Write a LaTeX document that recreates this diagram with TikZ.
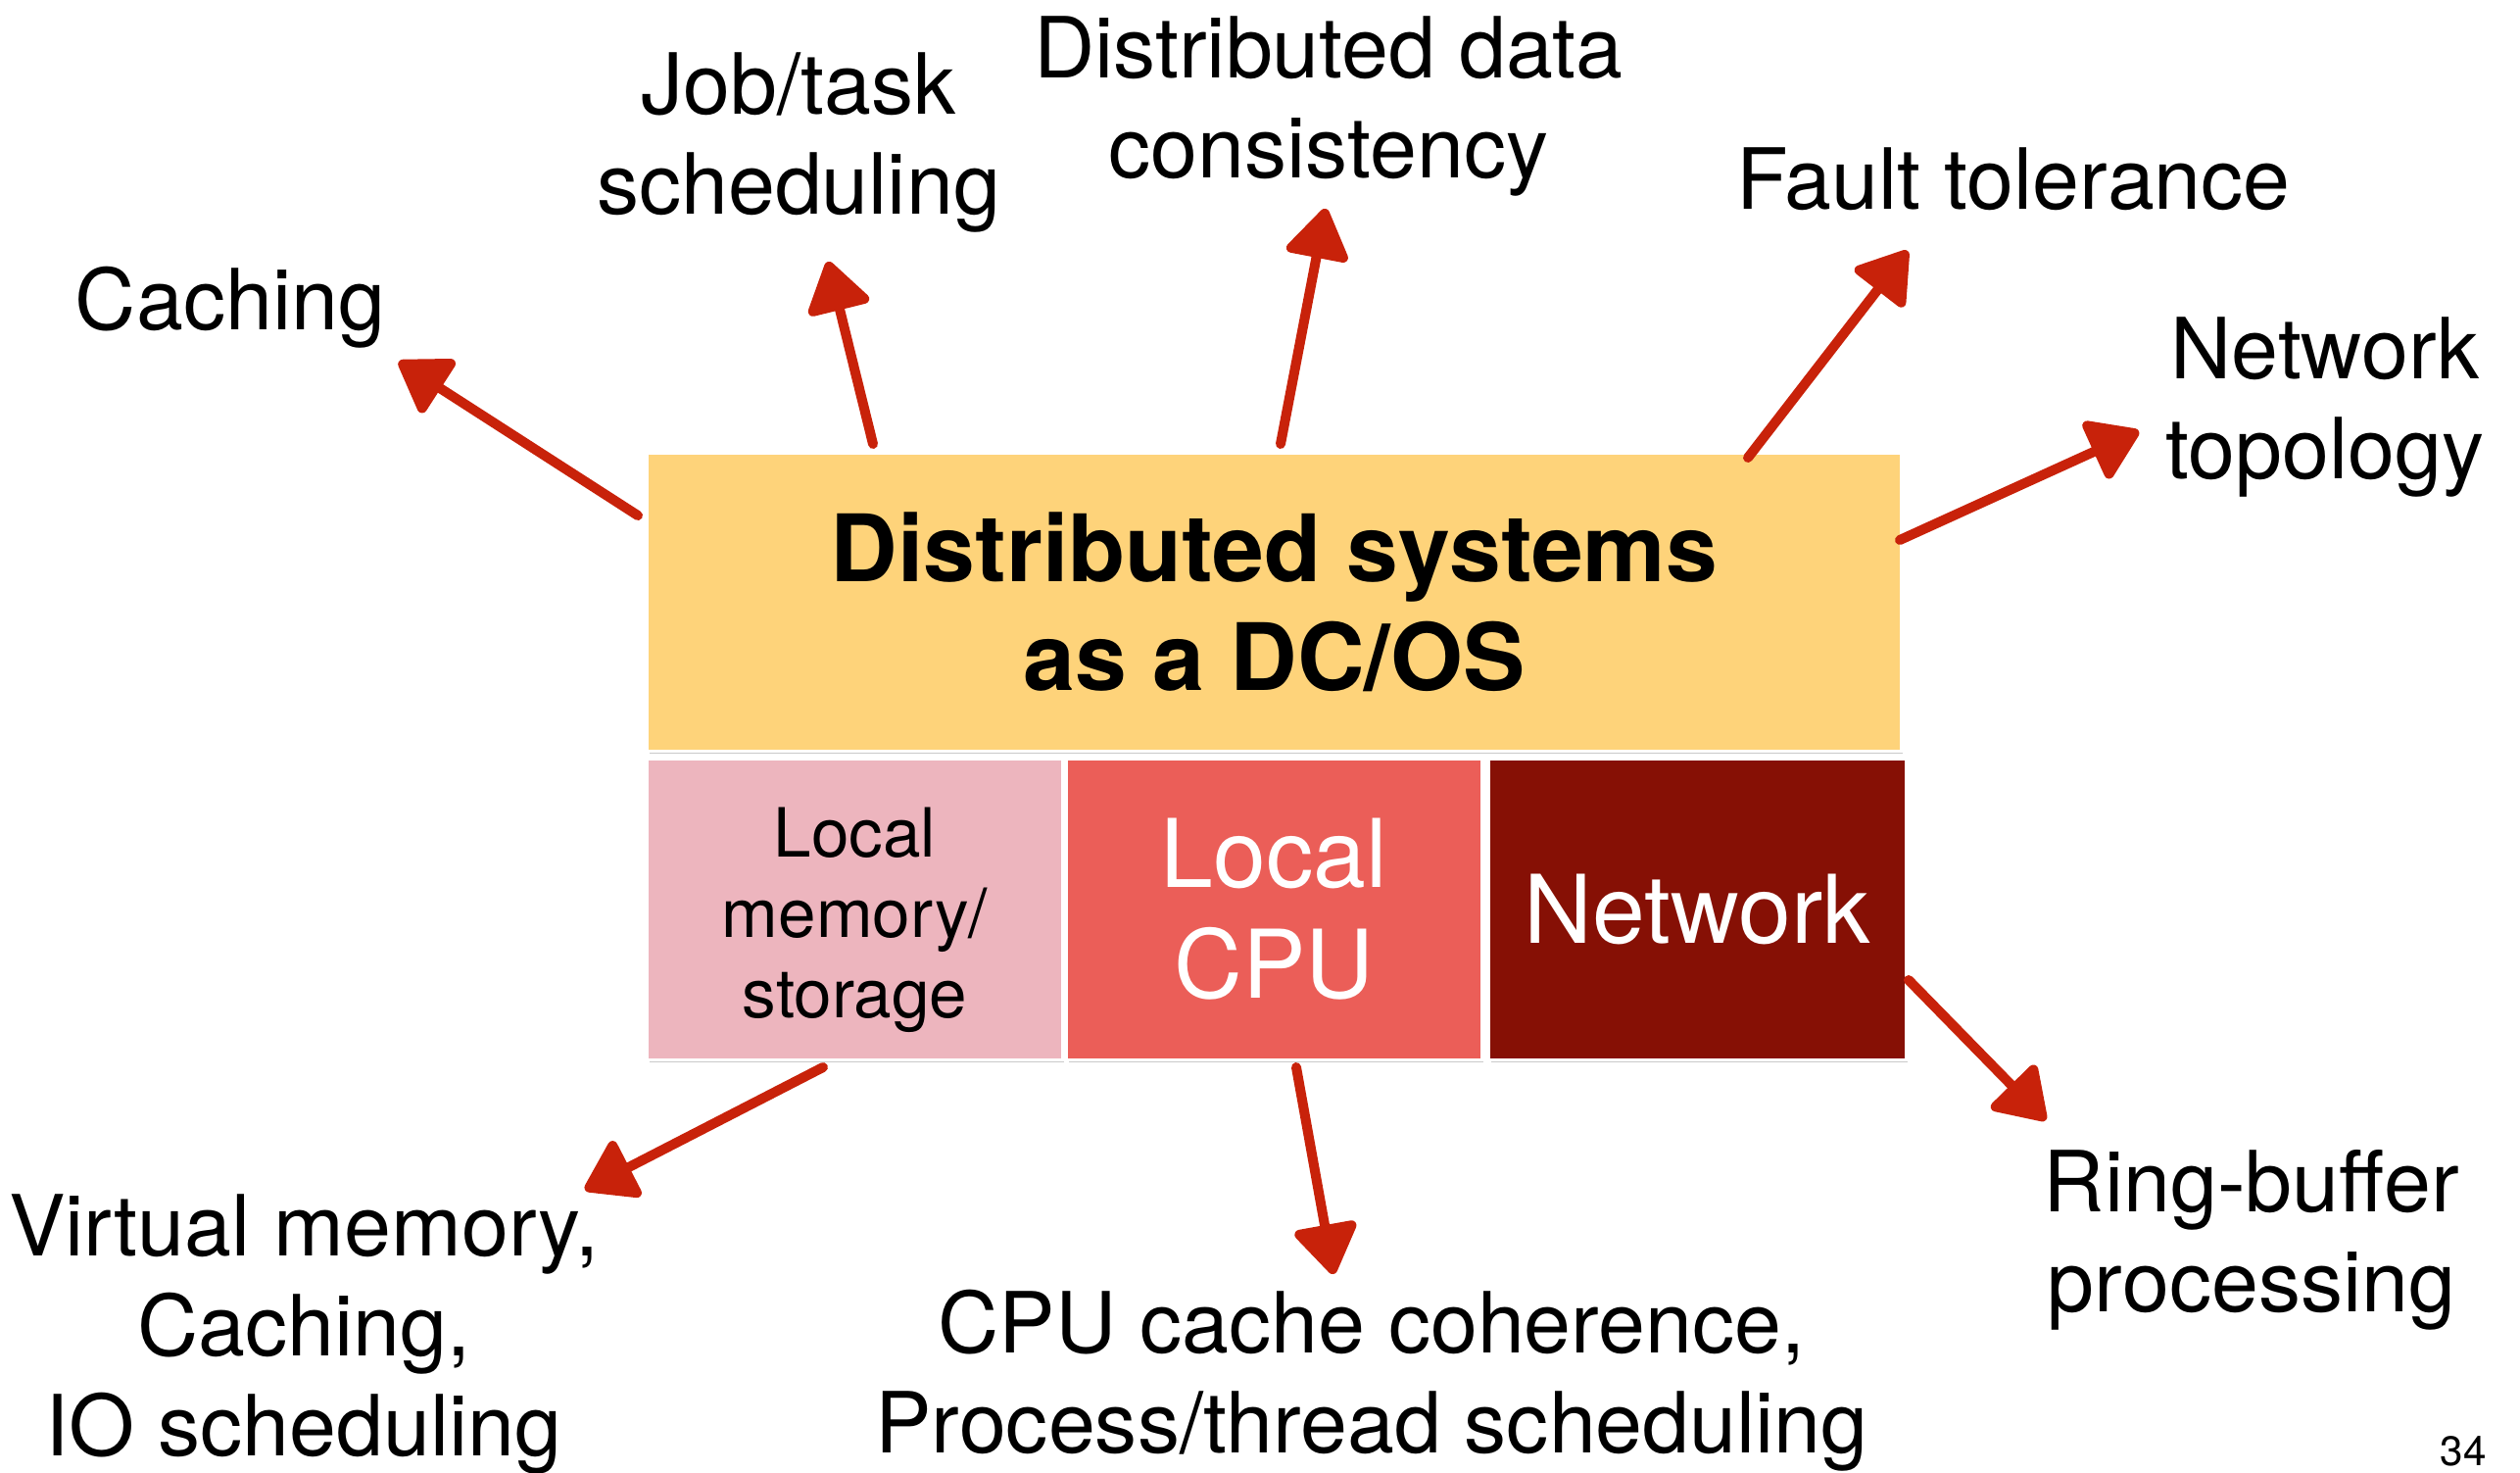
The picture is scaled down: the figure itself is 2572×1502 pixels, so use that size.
\documentclass[tikz,border=0pt]{standalone}
\usepackage{fontspec}
\setmainfont{TeX Gyre Heros}
\usetikzlibrary{arrows.meta,shadows}

\definecolor{coreyellow}{RGB}{254,211,122}
\definecolor{mempink}{RGB}{237,181,190}
\definecolor{cpured}{RGB}{235,94,88}
\definecolor{netred}{RGB}{134,16,5}
\definecolor{pen}{RGB}{200,34,10}

\tikzset{
  cell/.style={draw=white, line width=0.9pt, inner sep=0pt, align=center,
    drop shadow={shadow xshift=0.02cm, shadow yshift=-0.03cm, opacity=0.35, fill=black!60}},
  topic/.style={align=center, inner sep=0pt,
    font=\fontsize{24.5}{29}\selectfont},
  arr/.style={draw=pen, line width=0.1cm, line cap=round,
    -{Triangle[length=0.55cm, width=0.7cm, round]}},
}

\begin{document}
\begin{tikzpicture}[x=0.01cm, y=-0.01cm]
  \useasboundingbox (0,0) rectangle (2572,1502);

  % central block and its three resources
  \node[cell, fill=coreyellow, minimum width=12.79cm, minimum height=3.04cm,
        font=\fontsize{27}{31.6}\selectfont\bfseries]
    (core) at (1300.5,614) {Distributed systems\\as a DC/OS};
  \node[cell, fill=mempink, minimum width=4.23cm, minimum height=3.07cm]
    (mem) at (872.5,927.5) {};
  \node[align=center, inner sep=0pt, font=\fontsize{19.7}{23.3}\selectfont]
    (memtext) at (872.5,939) {Local\\memory/\\storage};
  \node[cell, fill=cpured, text=white, minimum width=4.23cm, minimum height=3.07cm,
        font=\fontsize{27.5}{32}\selectfont]
    (cpu) at (1300.5,927.5) {Local\\CPU};
  \node[cell, fill=netred, text=white, minimum width=4.25cm, minimum height=3.07cm,
        font=\fontsize{27.5}{32}\selectfont]
    (net) at (1732.5,927.5) {Network};

  % surrounding concerns
  \node[topic] (caching) at (235,314) {Caching};
  \node[topic] (jobs) at (815,145) {Job/task\\scheduling};
  \node[topic] (consist) at (1356,108) {Distributed data\\consistency};
  \node[topic] (fault) at (2055,183) {Fault tolerance};
  \node[topic] (topo) at (2373,415) {Network\\topology};
  \node[topic] (vmem) at (310,1361) {Virtual memory,\\Caching,\\IO scheduling};
  \node[topic] (cache) at (1400,1409) {CPU cache coherence,\\Process/thread scheduling};
  \node[topic] (ring) at (2298,1265) {Ring-buffer\\processing};
  \node[font=\fontsize{12}{14}\selectfont, inner sep=0pt] (page) at (2514,1481) {34};

  % arrow end points
  \coordinate (t1) at (651,526);  \coordinate (h1) at (407,369);
  \coordinate (t2) at (891,453);  \coordinate (h2) at (845,267);
  \coordinate (t3) at (1307,453); \coordinate (h3) at (1353,213);
  \coordinate (t4) at (1784,467); \coordinate (h4) at (1947,256);
  \coordinate (t5) at (1939,551); \coordinate (h5) at (2183,440);
  \coordinate (t6) at (840,1089); \coordinate (h6) at (597,1214);
  \coordinate (t7) at (1323,1089);\coordinate (h7) at (1361,1300);
  \coordinate (t8) at (1948,1000);\coordinate (h8) at (2088,1143);

  \foreach \i in {1,...,8} \draw[arr] (t\i) -- (h\i);
\end{tikzpicture}
\end{document}
